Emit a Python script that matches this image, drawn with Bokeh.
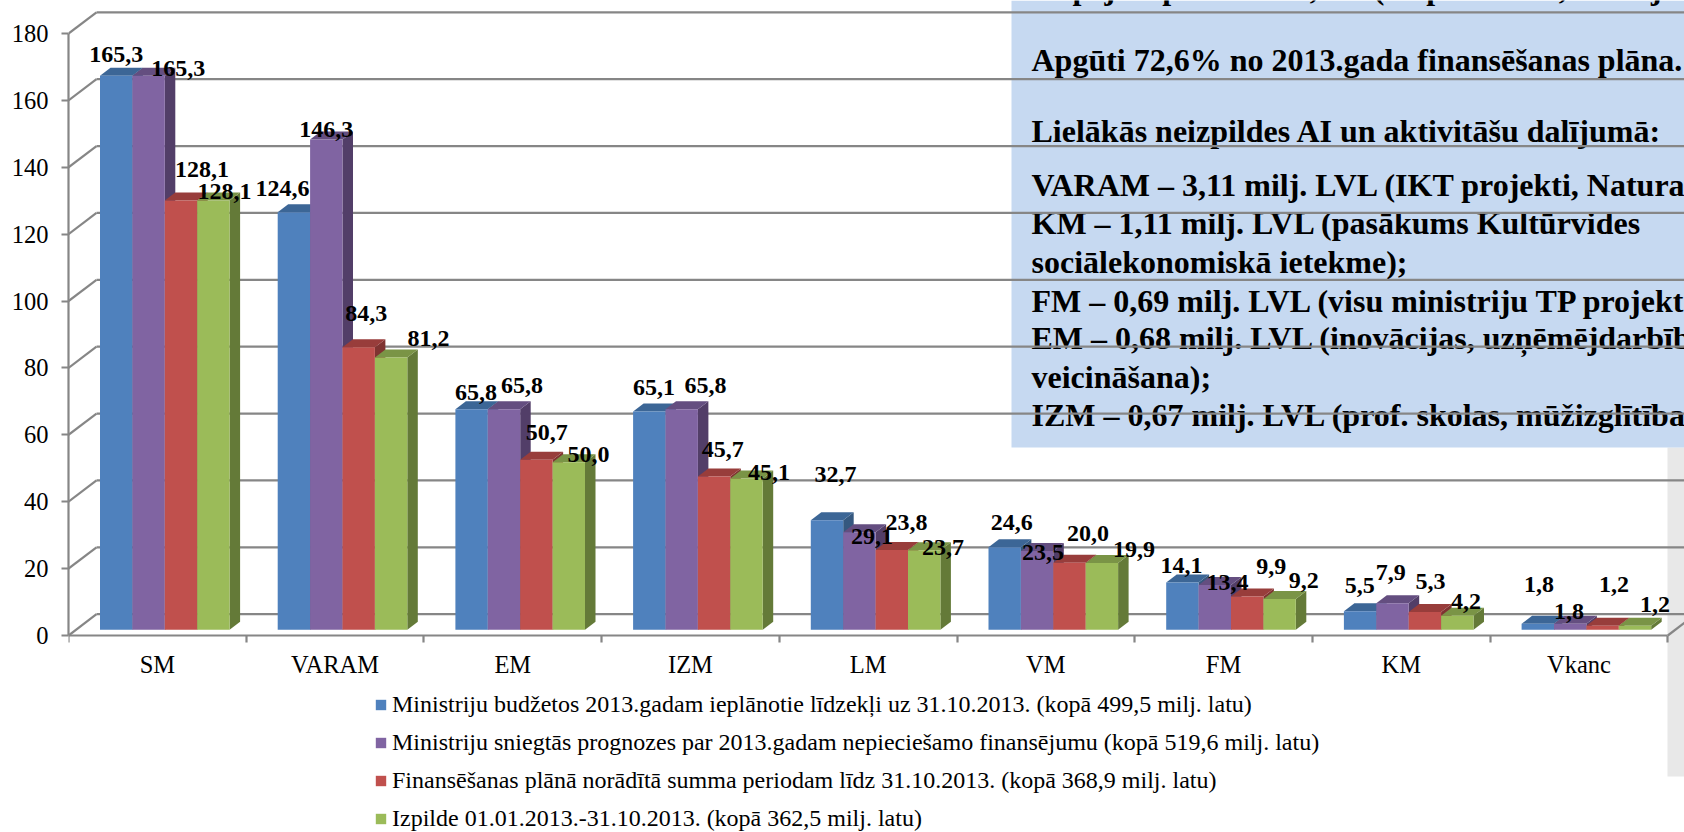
from bokeh.plotting import figure
from bokeh.embed import file_html
from bokeh.resources import INLINE
from bokeh.core.properties import value
from bokeh.models import (Range1d, FixedTicker, Legend, LegendItem)

FONT = "Liberation Serif"
categories = ["SM", "VARAM", "EM", "IZM", "LM", "VM", "FM", "KM", "Vkanc"]
budget   = [165.3, 124.6, 65.8, 65.1, 32.7, 24.6, 14.1, 5.5, 1.8]
forecast = [165.3, 146.3, 65.8, 65.8, 29.1, 23.5, 13.4, 7.9, 1.8]
plan     = [128.1, 84.3, 50.7, 45.7, 23.8, 20.0, 9.9, 5.3, 1.2]
actual   = [128.1, 81.2, 50.0, 45.1, 23.7, 19.9, 9.2, 4.2, 1.2]
series_values = [budget, forecast, plan, actual]
series_names = [
    "Ministriju budžetos 2013.gadam ieplānotie līdzekļi uz 31.10.2013. (kopā 499,5 milj. latu)",
    "Ministriju sniegtās prognozes par 2013.gadam nepieciešamo finansējumu (kopā 519,6 milj. latu)",
    "Finansēšanas plānā norādītā summa periodam līdz 31.10.2013. (kopā 368,9 milj. latu)",
    "Izpilde 01.01.2013.-31.10.2013. (kopā 362,5 milj. latu)",
]
y_ticks = [0, 20, 40, 60, 80, 100, 120, 140, 160, 180]

panel_lines = [
    "Kopējā izpilde – 362,50\u00a0\u00a0\u00a0(no plāna 368,90 milj.",
    "Apgūti 72,6% no 2013.gada finansēšanas plāna.",
    "Lielākās neizpildes AI un aktivitāšu dalījumā:",
    "VARAM – 3,11 milj. LVL (IKT projekti, Natura",
    "KM – 1,11 milj. LVL (pasākums Kultūrvides",
    "sociālekonomiskā ietekme);",
    "FM – 0,69 milj. LVL (visu ministriju TP projekt",
    "EM – 0,68 milj. LVL (inovācijas, uzņēmējdarbīb",
    "veicināšana);",
    "IZM – 0,67 milj. LVL (prof. skolas, mūžizglītība",
]
panel_baselines_px = [-13, 59, 130, 184, 222, 261, 300, 337, 376, 414]

# label offsets from the top-centre of each bar, in pixels (series, then category)
label_dx = [
    [0, -11.4, 4.4, 4.7, 8.6, 7, -1, -0.4, 1.2],
    [29.7, 0, 18, 23.9, 12.6, 5.9, 12.8, -1.7, -1.2],
    [21, 7.5, 10.3, 8.7, 14.7, 18.5, 24, 5.7, 11.4],
    [11, 37.4, 19.7, 22.5, 18.8, 32, 24.2, 8.7, 20],
]
label_dy = [
    [-21, -23.6, -16.7, -24.5, -46, -24.8, -17, -25.9, -39],
    [-7, -10, -24, -24.2, 4, 1.5, -2.4, -30.4, -12],
    [-31, -34, -27.7, -27, -27.5, -29.6, -30, -30.5, -41.3],
    [-9, -19, -7.7, -6.6, -3.2, -13.6, -18.5, -13.8, -21.7],
]

# ---- geometry of the pseudo-3D projection
W, H = 1684, 832
X0, Y0 = 68, 635           # page pixel of data origin
PX_X, PX_Y = 177.7, 3.344  # pixels per category / per unit
BAR_PX_Y = 3.352
BASE = 5.7 / PX_Y
BAR_W = 32.4 / PX_X
BAR_START = 31.5 / PX_X
SIDE_DX, SIDE_DY = 10.5 / PX_X, 8 / PX_Y
WALL_DX, WALL_DY = 28 / PX_X, 21.3 / PX_Y
K = BAR_PX_Y / PX_Y

GRID = "#868686"
front = ["#4f81bd", "#8064a2", "#c0504d", "#9bbb59"]
top_c = ["#3c6696", "#644e80", "#983d3b", "#7a9446"]
side_c = ["#35587f", "#523e68", "#7f3331", "#647a38"]

def px_x(x):
    return (x - X0) / PX_X
def px_y(y):
    return (Y0 - y) / PX_Y

p = figure(width=W, height=H, output_backend="svg", toolbar_location=None,
           x_range=Range1d(0, (W - X0) / PX_X), y_range=Range1d((Y0 - H) / PX_Y, Y0 / PX_Y),
           min_border_left=X0, min_border_right=0, min_border_top=0, min_border_bottom=0,
           outline_line_color=None, background_fill_color=None)
p.grid.visible = False

# outside band and text panel
p.quad(left=[px_x(1667)], right=[px_x(1684)], top=[px_y(447)], bottom=[px_y(776)],
       fill_color="#e8e8e8", line_color=None)
p.quad(left=[px_x(1011)], right=[px_x(1684)], top=[px_y(0)], bottom=[px_y(447)],
       fill_color="#c6d9f1", line_color=None)
p.text(x=[px_x(1031)] * len(panel_lines), y=[px_y(b) for b in panel_baselines_px], text=panel_lines,
       text_font=value(FONT), text_font_style="bold", text_font_size="32px",
       text_baseline="alphabetic", text_align="left", text_color="#000000")

# back wall
xe = (W - X0) / PX_X
p.segment(x0=[WALL_DX] * len(y_ticks), x1=[xe] * len(y_ticks),
          y0=[v + WALL_DY for v in y_ticks], y1=[v + WALL_DY for v in y_ticks],
          line_color=GRID, line_width=2.2)
p.segment(x0=[0] * len(y_ticks) + [len(categories)], x1=[WALL_DX] * len(y_ticks) + [len(categories) + WALL_DX],
          y0=list(y_ticks) + [0], y1=[v + WALL_DY for v in y_ticks] + [WALL_DY],
          line_color=GRID, line_width=2.2)

# bars
legend_items = []
for j, vals in enumerate(series_values):
    lefts = [i + BAR_START + j * BAR_W for i in range(len(vals))]
    rights = [l + BAR_W for l in lefts]
    tops = [BASE + v * K for v in vals]
    bases = [BASE] * len(vals)
    p.patches(xs=[[r, r + SIDE_DX, r + SIDE_DX, r] for r in rights],
              ys=[[BASE, BASE + SIDE_DY, t + SIDE_DY, t] for t in tops],
              fill_color=side_c[j], line_color=None)
    p.patches(xs=[[l, l + SIDE_DX, r + SIDE_DX, r] for l, r in zip(lefts, rights)],
              ys=[[t, t + SIDE_DY, t + SIDE_DY, t] for t in tops],
              fill_color=top_c[j], line_color=None)
    r = p.quad(left=lefts, right=rights, top=tops, bottom=bases, fill_color=front[j], line_color=None)
    legend_items.append(LegendItem(label=series_names[j], renderers=[r]))

# data labels
for j, vals in enumerate(series_values):
    xs, ys, txt = [], [], []
    for i, v in enumerate(vals):
        cx = i + BAR_START + (j + 0.5) * BAR_W
        xs.append(cx + label_dx[j][i] / PX_X)
        ys.append(BASE + v * K - label_dy[j][i] / PX_Y)
        txt.append(f"{v:.1f}".replace(".", ","))
    p.text(x=xs, y=ys, text=txt, text_font=value(FONT), text_font_style="bold", text_font_size="24px",
           text_align="center", text_baseline="middle", text_color="#000000")

# axes
ya = p.yaxis[0]
ya.ticker = FixedTicker(ticks=y_ticks)
ya.bounds = (0, 180)
ya.axis_line_color = GRID
ya.axis_line_width = 2.2
ya.major_tick_line_color = GRID
ya.major_tick_line_width = 2.2
ya.major_tick_out = 7
ya.major_tick_in = 0
ya.minor_tick_line_color = None
ya.major_label_text_font = FONT
ya.major_label_text_font_size = "24.5px"
ya.major_label_text_color = "#000000"
ya.major_label_standoff = 13

xa = p.xaxis[0]
xa.fixed_location = 0
centres = [i + 0.5 for i in range(len(categories))]
xa.ticker = FixedTicker(ticks=centres, minor_ticks=list(range(len(categories) + 1)))
xa.major_label_overrides = {c: n for c, n in zip(centres, categories)}
xa.bounds = (0, len(categories))
xa.axis_line_color = GRID
xa.axis_line_width = 2.2
xa.major_tick_line_color = None
xa.major_tick_out = 0
xa.major_tick_in = 0
xa.minor_tick_line_color = GRID
xa.minor_tick_line_width = 2.2
xa.minor_tick_out = 7
xa.minor_tick_in = 0
xa.major_label_text_font = FONT
xa.major_label_text_font_size = "24.5px"
xa.major_label_text_color = "#000000"
xa.major_label_standoff = 8

legend = Legend(items=legend_items, location=(374 - X0, 0), orientation="vertical",
                glyph_width=13, glyph_height=13, label_standoff=5, spacing=11, margin=0, padding=0,
                label_text_font=FONT, label_text_font_size="24px", label_text_color="#000000",
                background_fill_alpha=0, border_line_color=None)
p.add_layout(legend, "center")

open("out.html", "w").write(file_html(p, INLINE))
